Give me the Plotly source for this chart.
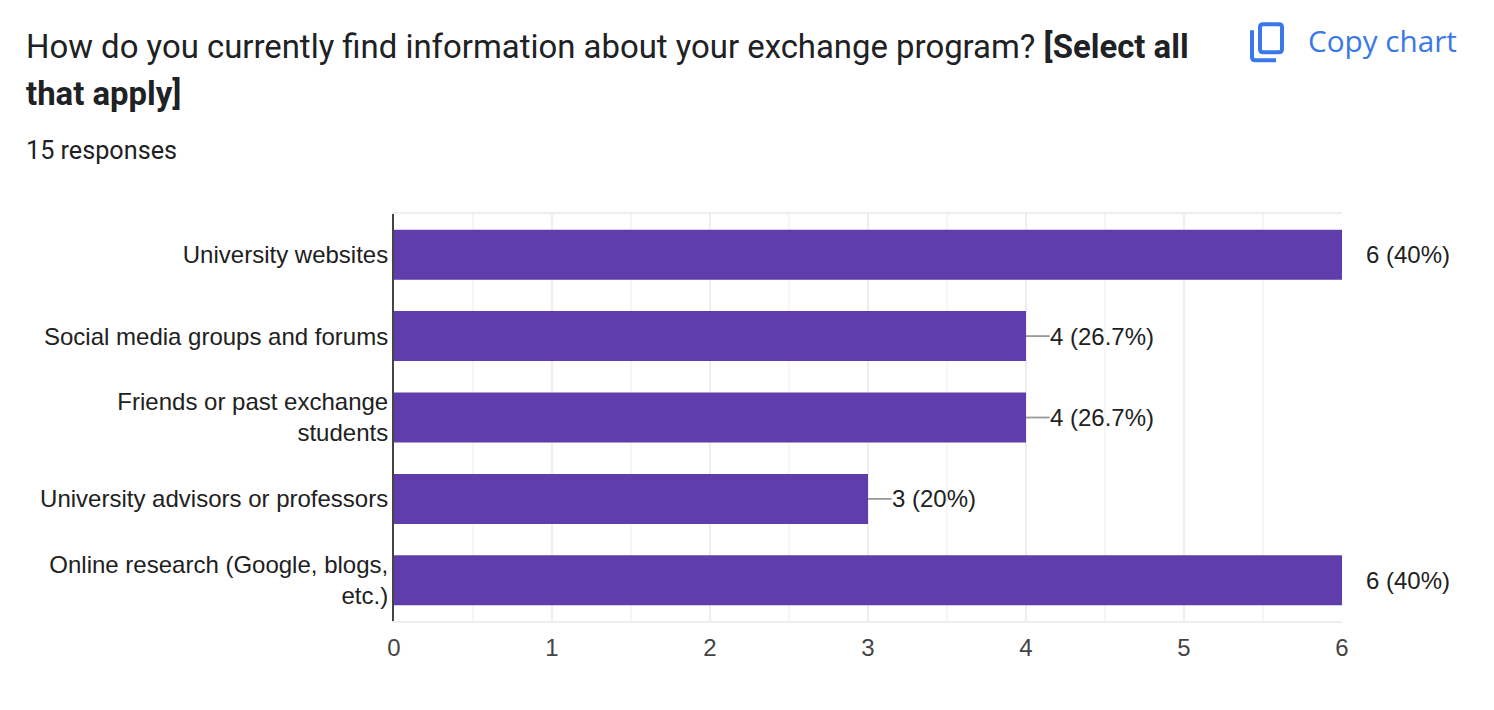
import plotly.graph_objects as go

categories = ["University websites", "Social media groups and forums",
              "Friends or past exchange<br>students", "University advisors or professors",
              "Online research (Google, blogs,<br>etc.)"]
values = [6, 4, 4, 3, 6]
labels = ["6 (40%)", "4 (26.7%)", "4 (26.7%)", "3 (20%)", "6 (40%)"]
leaders = [0.025, 0.15, 0.15, 0.15, 0.025]
tick_vals = [0, 1, 2, 3, 4, 5, 6]

W, H = 1494, 710
L, R, T, B = 394, 1342, 214, 621.5

def px(x):
    return (x - L) / (R - L)

def py(y):
    return (B - y) / (B - T)

fig = go.Figure()
fig.add_trace(go.Bar(
    y=categories, x=values, orientation="h", width=0.614,
    marker=dict(color="#5f3dab", line_width=0), cliponaxis=False,
    error_x=dict(type="data", symmetric=False, array=leaders, color="#999999", thickness=1.8, width=0),
    hoverinfo="skip",
))

annos = []
for c, v, t in zip(categories, values, labels):
    annos.append(dict(x=v, y=c, xref="x", yref="y", text=t, showarrow=False, xanchor="left",
                      xshift=22, yshift=0, font=dict(family="Liberation Sans", size=24, color="#212121")))

def txt(x, y, s, size, color, family="Roboto", anchor="left"):
    annos.append(dict(x=px(x), y=py(y), xref="paper", yref="paper", text=s, showarrow=False,
                      xanchor=anchor, yanchor="middle", align="left",
                      font=dict(family=family, size=size, color=color)))

txt(24, 46, "How do you currently find information about your exchange program? <b>[Select all</b>", 32.9, "#202124")
txt(24, 93, "<b>that apply]</b>", 32.9, "#202124")
txt(24, 150, "15 responses", 25.2, "#202124")
txt(1306, 40, "Copy chart", 29.7, "#3b78e7", family="Open Sans")

icon = "#3b78e7"
shapes = [
    dict(type="path", xref="paper", yref="paper", line=dict(color=icon, width=4),
         path=" ".join([
             f"M {px(1263)} {py(24)}", f"L {px(1279)} {py(24)}",
             f"Q {px(1282)} {py(24)} {px(1282)} {py(27)}",
             f"L {px(1282)} {py(49)}", f"Q {px(1282)} {py(52)} {px(1279)} {py(52)}",
             f"L {px(1263)} {py(52)}", f"Q {px(1260)} {py(52)} {px(1260)} {py(49)}",
             f"L {px(1260)} {py(27)}", f"Q {px(1260)} {py(24)} {px(1263)} {py(24)}", "Z"])),
    dict(type="path", xref="paper", yref="paper", line=dict(color=icon, width=4),
         path=f"M {px(1252)} {py(30)} L {px(1252)} {py(57)} Q {px(1252)} {py(60)} {px(1255)} {py(60)} L {px(1276)} {py(60)}"),
]

fig.update_layout(
    width=W, height=H, margin=dict(l=L, r=W - R, t=T, b=H - B, pad=0),
    paper_bgcolor="white", plot_bgcolor="white", showlegend=False,
    annotations=annos, shapes=shapes, bargap=0.386,
    xaxis=dict(range=[0, 6], tickvals=tick_vals, showgrid=True, gridcolor="#eeeeee", gridwidth=2,
               minor=dict(dtick=0.5, showgrid=True, gridcolor="#f6f6f6", gridwidth=2, ticklen=0),
               zeroline=False, showline=True, linecolor="#eeeeee", linewidth=2, mirror=True,
               ticks="outside", ticklen=4, tickcolor="rgba(0,0,0,0)",
               tickfont=dict(family="Liberation Sans", size=24, color="#444444")),
    yaxis=dict(categoryorder="array", categoryarray=categories[::-1], showgrid=False, zeroline=False,
               showline=True, linecolor="#444444", linewidth=2, ticks="", ticklen=0,
               tickcolor="rgba(0,0,0,0)", ticklabelstandoff=-1,
               tickfont=dict(family="Liberation Sans", size=24, color="#212121")),
)
fig.write_html("out.html", config=dict(displayModeBar=False),
               post_script="document.body.style.margin='0';document.documentElement.style.overflow='hidden';")
